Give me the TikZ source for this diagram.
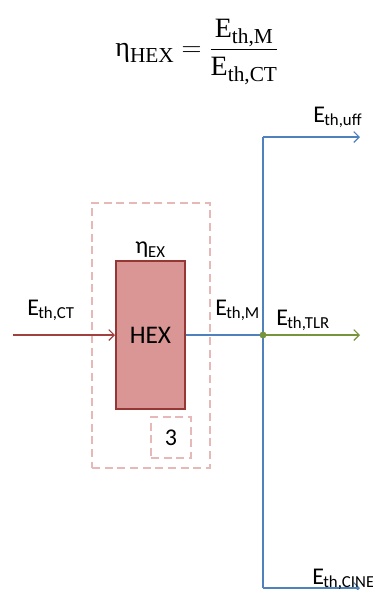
\documentclass[tikz,border=0pt]{standalone}
\usepackage{fontspec}
\setmainfont{Carlito}
\newfontfamily\eqfont{Liberation Serif}
\usetikzlibrary{arrows.meta}
\definecolor{hexline}{HTML}{953735}
\definecolor{hexfill}{HTML}{D99694}
\definecolor{boxdash}{HTML}{E6B9B8}
\definecolor{inred}{HTML}{A0403F}
\definecolor{outblue}{HTML}{4F81BD}
\definecolor{tlrgreen}{HTML}{77933C}
\newcommand{\energy}[1]{E\textsubscript{\kern-0.5pt #1}}
\newcommand{\eqsub}[1]{\raisebox{-0.22em}{\fontsize{16}{18}\selectfont #1}}
\tikzset{
    flow/.style={line width=0.9pt, -{Straight Barb[length=4pt,width=8pt]}},
    flowlabel/.style={font=\fontsize{18}{21}\selectfont, inner sep=0pt, anchor=base west},
    dashbox/.style={draw=boxdash, line width=1.5pt, dash pattern=on 6pt off 3.5pt, inner sep=0pt}
}

\begin{document}
\begin{tikzpicture}[x=0.75pt, y=-0.75pt]
    \useasboundingbox (0,0) rectangle (373,590);

    % ---------------- efficiency ----------------
    \node (eq) at (197,52) {\fontsize{21}{25}\selectfont\eqfont
        $\displaystyle \mbox{η\eqsub{HEX}} =
        \frac{\mbox{E\eqsub{th,M}}}{\mbox{E\eqsub{th,CT}}}$};

    % ---------------- HEX unit ----------------
    \node[dashbox, minimum width=88.5pt, minimum height=198.75pt] (unit) at (151,335) {};
    \node[draw=hexline, fill=hexfill, line width=1.5pt, minimum width=51.75pt,
          minimum height=111pt, font=\fontsize{19}{22}\selectfont] (hex) at (150.5,335) {HEX};
    \node[font=\fontsize{18}{21}\selectfont, inner sep=1.5pt, anchor=south] (eta) at (hex.north) {η\textsubscript{EX}};
    \node[dashbox, minimum width=30pt, minimum height=30.75pt,
          font=\fontsize{18}{21}\selectfont] (num) at (171,437.5) {3};

    % ---------------- flows ----------------
    \coordinate (in) at (13,335);
    \coordinate (junc) at (263,335);
    \coordinate (top) at (263,137);
    \coordinate (bot) at (263,588);
    \coordinate (uff) at (360,137);
    \coordinate (tlr) at (360,335);
    \coordinate (cine) at (360,588);

    \draw[flow, inred] (in) -- (hex.west);
    \draw[outblue, line width=0.9pt] (hex.east) -- (junc);
    \draw[outblue, line width=0.9pt] (top) -- (bot);
    \draw[flow, outblue] (top) -- (uff);
    \draw[flow, outblue] (bot) -- (cine);
    \draw[flow, tlrgreen] (junc) -- (tlr);
    \fill[tlrgreen] (junc) circle (2.6pt);

    \node[flowlabel] (lct) at (27,315) {\energy{th,CT}};
    \node[flowlabel] (lm) at (215,315) {\energy{th,M}};
    \node[flowlabel] (ltlr) at (276,325) {\energy{th,TLR}};
    \node[flowlabel] (luff) at (313,122) {\energy{th,uff}};
    \node[flowlabel] (lcine) at (312,584) {\energy{th,CINE}};
\end{tikzpicture}
\end{document}
